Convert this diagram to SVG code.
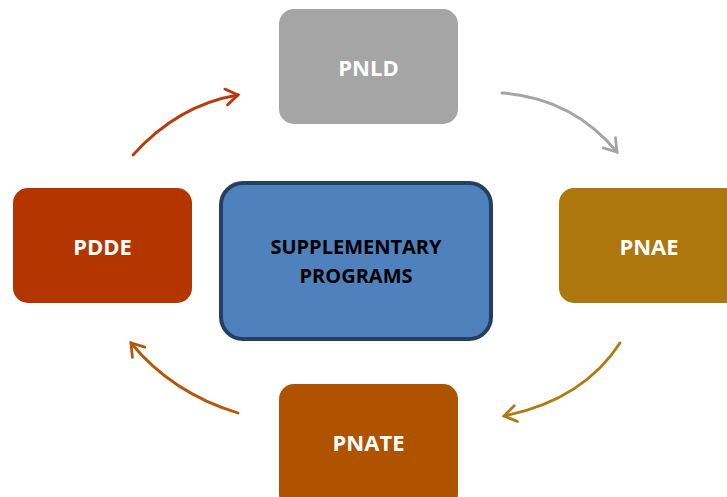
<svg xmlns="http://www.w3.org/2000/svg" width="727" height="497" viewBox="0 0 727 497">
<style>
.lbl{font-family:"Open Sans","Liberation Sans",sans-serif;font-weight:bold;font-size:22px;fill:#fff;text-anchor:middle}
.ctr{font-family:"Open Sans","Liberation Sans",sans-serif;font-weight:bold;font-size:20px;fill:#000;text-anchor:middle}
.arr{fill:none;stroke-width:2.8;stroke-linecap:round}
</style>
<defs>
<marker id="mg" markerUnits="userSpaceOnUse" markerWidth="20" markerHeight="20" refX="16" refY="10" orient="auto" viewBox="0 0 20 20"><path d="M4,2 L16,10 L4,18" fill="none" stroke="#A5A5A5" stroke-width="2.8" stroke-linecap="round"/></marker>
<marker id="mr" markerUnits="userSpaceOnUse" markerWidth="20" markerHeight="20" refX="16" refY="10" orient="auto" viewBox="0 0 20 20"><path d="M4,2 L16,10 L4,18" fill="none" stroke="#B83A0E" stroke-width="2.8" stroke-linecap="round"/></marker>
<marker id="my" markerUnits="userSpaceOnUse" markerWidth="20" markerHeight="20" refX="16" refY="10" orient="auto" viewBox="0 0 20 20"><path d="M4,2 L16,10 L4,18" fill="none" stroke="#B07A12" stroke-width="2.8" stroke-linecap="round"/></marker>
<marker id="mo" markerUnits="userSpaceOnUse" markerWidth="20" markerHeight="20" refX="16" refY="10" orient="auto" viewBox="0 0 20 20"><path d="M4,2 L16,10 L4,18" fill="none" stroke="#B5560A" stroke-width="2.8" stroke-linecap="round"/></marker>
</defs>
<rect width="727" height="497" fill="#fff"/>
<g id="connectors">
<path class="arr" d="M502,93 Q572,98 617,152" stroke="#A5A5A5" marker-end="url(#mg)"/>
<path class="arr" d="M133,155 Q178,105 238,95" stroke="#B83A0E" marker-end="url(#mr)"/>
<path class="arr" d="M620,343 Q583,400 504,416" stroke="#B07A12" marker-end="url(#my)"/>
<path class="arr" d="M238,413 Q172,393 131,343" stroke="#B5560A" marker-end="url(#mo)"/>
</g>
<g id="center">
<rect x="221" y="183" width="270" height="156" rx="22" fill="#4F81BD" stroke="#243F60" stroke-width="4"/>
<text class="ctr" x="356" y="254">SUPPLEMENTARY</text>
<text class="ctr" x="356" y="283">PROGRAMS</text>
</g>
<g id="pnld">
<rect x="279" y="9" width="179" height="115" rx="15" fill="#A5A5A5"/>
<text class="lbl" x="368.5" y="76">PNLD</text>
</g>
<g id="pnae">
<rect x="559" y="188" width="185" height="115" rx="15" fill="#AE770E"/>
<text class="lbl" x="649" y="255">PNAE</text>
</g>
<g id="pnate">
<rect x="279" y="384" width="179" height="125" rx="15" fill="#B05300"/>
<text class="lbl" x="368.5" y="451">PNATE</text>
</g>
<g id="pdde">
<rect x="13" y="188" width="179" height="115" rx="15" fill="#B53500"/>
<text class="lbl" x="102.5" y="255">PDDE</text>
</g>
</svg>
